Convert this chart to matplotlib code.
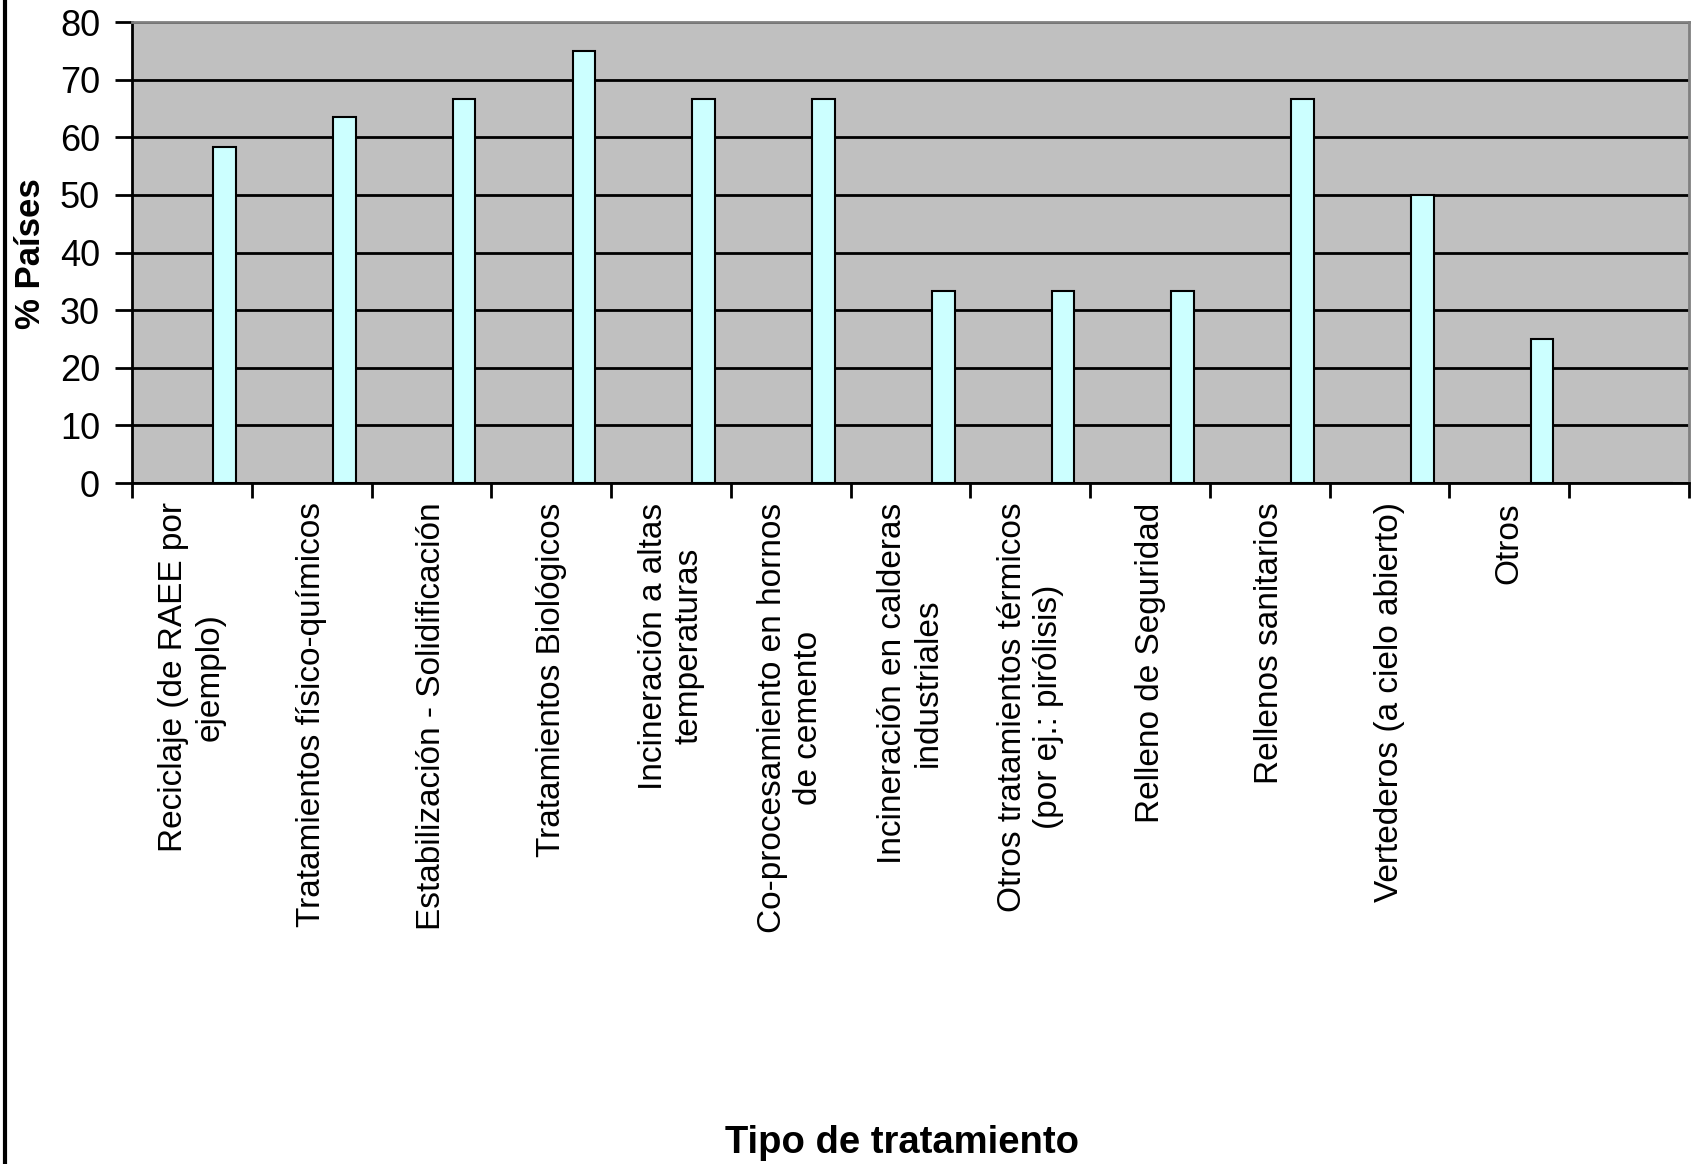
import numpy as np
import matplotlib
matplotlib.use("Agg")
import matplotlib.pyplot as plt
from matplotlib.lines import Line2D

plt.rcParams['font.family'] = ['Liberation Sans', 'DejaVu Sans']

# % of countries using each treatment type
categories = [
    "Reciclaje (de RAEE por\nejemplo)",
    "Tratamientos físico-químicos",
    "Estabilización - Solidificación",
    "Tratamientos Biológicos",
    "Incineración a altas\ntemperaturas",
    "Co-procesamiento en hornos\nde cemento",
    "Incineración en calderas\nindustriales",
    "Otros tratamientos térmicos\n(por ej.: pirólisis)",
    "Relleno de Seguridad",
    "Rellenos sanitarios",
    "Vertederos (a cielo abierto)",
    "Otros",
    "",
]
paises_pct = [58.3, 63.6, 66.7, 75.0, 66.7, 66.7, 33.3, 33.3, 33.3, 66.7, 50.0, 25.0, 0.0]
yticks = [0, 10, 20, 30, 40, 50, 60, 70, 80]

W, H = 1700, 1164
fig = plt.figure(figsize=(W / 100, H / 100), dpi=100)
ax = fig.add_axes([132 / W, 1 - 483 / H, (1689 - 132) / W, (483 - 22) / H])
ax.set_facecolor('#C0C0C0')

n = len(categories)
x = np.arange(n)
ax.bar(x + 0.678, paises_pct, width=0.19, align='edge',
       color='#CCFFFF', edgecolor='black', linewidth=1.5, zorder=3)

ax.set_xlim(0, n)
ax.set_ylim(0, 80)
ax.set_yticks(yticks)
ax.yaxis.grid(True, color='black', linewidth=2)
ax.set_axisbelow(True)

ax.tick_params(axis='y', labelsize=26, length=12, width=2, pad=11, direction='out')
ax.set_xticks(np.arange(n + 1))
ax.set_xticklabels([])
ax.tick_params(axis='x', which='major', length=11, width=2, direction='out')
ax.set_xticks(x + 0.5, minor=True)
ax.set_xticklabels(categories, minor=True)
ax.tick_params(axis='x', which='minor', length=0, pad=14, labelsize=24)
for lbl in ax.get_xticklabels(minor=True):
    lbl.set_rotation(90)
    lbl.set_ha('center')
    lbl.set_va('top')
    lbl.set_multialignment('center')

for side in ['left', 'bottom']:
    ax.spines[side].set_color('black')
    ax.spines[side].set_linewidth(2)
for side in ['top', 'right']:
    ax.spines[side].set_color('#808080')
    ax.spines[side].set_linewidth(2)

fig.text(31 / W, 1 - 254 / H, "% Países", rotation=90, ha='center', va='center',
         fontsize=25, fontweight='bold')
fig.text(902 / W, 1 - 1143 / H, "Tipo de tratamiento", ha='center', va='center',
         fontsize=27.5, fontweight='bold')

# left frame edge of the chart area
fig.add_artist(Line2D([5 / W, 5 / W], [0, 1], color='black', linewidth=3,
                      transform=fig.transFigure))

fig.savefig("out.png", dpi=100)
